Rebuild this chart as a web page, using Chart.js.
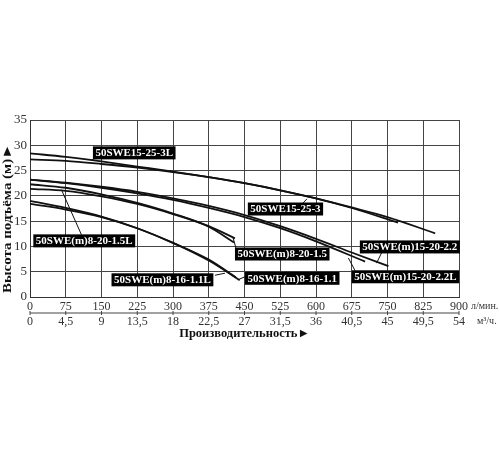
<!DOCTYPE html>
<html lang="ru">
<head>
<meta charset="UTF-8">
<title>Pump curves</title>
<script src="https://cdn.jsdelivr.net/npm/chart.js"></script>
<style>
  body { margin: 0; background: #fff; }
  canvas { display: block; }
</style>
</head>
<body>
<canvas id="pumpChart" width="500" height="450"></canvas>
<script>
// tick labels
const flowLpm = [0, 75, 150, 225, 300, 375, 450, 525, 600, 675, 750, 825, 900];
const flowM3 = ['0', '4,5', '9', '13,5', '18', '22,5', '27', '31,5', '36', '40,5', '45', '49,5', '54'];

// curves: flow (l/min) and head (m)
const q_15_25_3L = [0, 75, 150, 225, 300, 375, 450, 525, 600, 675, 772];
const h_15_25_3L = [28.4, 27.7, 26.8, 25.8, 24.8, 23.7, 22.5, 21.1, 19.5, 17.6, 14.7];
const q_15_25_3 = [0, 75, 150, 225, 300, 375, 450, 525, 600, 675, 750, 850];
const h_15_25_3 = [27.2, 26.9, 26.3, 25.6, 24.7, 23.7, 22.5, 21.1, 19.5, 17.7, 15.8, 12.6];
const q_15_20_22 = [0, 75, 150, 225, 300, 375, 450, 525, 600, 675, 752];
const h_15_20_22 = [23.2, 22.6, 21.8, 20.8, 19.5, 18.0, 16.2, 14.0, 11.5, 8.8, 6.1];
const q_15_20_22L = [0, 75, 150, 225, 300, 375, 450, 525, 600, 703];
const h_15_20_22L = [23.2, 22.5, 21.6, 20.5, 19.2, 17.6, 15.8, 13.6, 11.0, 7.0];
const q_8_20_15 = [0, 75, 150, 225, 300, 375, 428];
const h_8_20_15 = [22.3, 21.6, 20.3, 18.6, 16.5, 13.9, 10.8];
const q_8_20_15L = [0, 75, 150, 225, 300, 375, 430];
const h_8_20_15L = [21.4, 21.0, 19.9, 18.4, 16.4, 14.0, 11.6];
const q_8_16_11 = [0, 75, 150, 225, 300, 375, 440];
const h_8_16_11 = [19.0, 17.6, 15.9, 13.6, 10.7, 7.2, 3.3];
const q_8_16_11L = [0, 75, 150, 225, 300, 375, 432];
const h_8_16_11L = [18.4, 17.3, 15.8, 13.6, 10.7, 7.4, 3.9];

// callout labels: text, box left/centre (data units), leader from -> to
const calloutText = ['50SWE15-25-3L', '50SWE15-25-3', '50SWE(m)8-20-1.5L', '50SWE(m)8-20-1.5',
  '50SWE(m)8-16-1.1L', '50SWE(m)8-16-1.1', '50SWE(m)15-20-2.2', '50SWE(m)15-20-2.2L'];
const calloutAt = [[132, 28.5], [457, 17.4], [7, 11.1], [430, 8.5], [171, 3.4], [451, 3.7], [692, 9.9], [675, 4.0]];
const leaderFrom = [[136, 27.5], [573, 18.6], [108, 12.3], [432, 9.7], [388, 4.3], [451, 4.0], [738, 8.8], [682, 5.2]];
const leaderTo = [[129, 27.0], [581, 19.4], [66, 21.2], [426, 11.7], [409, 4.7], [436, 3.4], [727, 6.7], [668, 7.7]];

const toPts = (q, h) => q.map((v, i) => ({ x: v, y: h[i] }));
const curve = (label, q, h) => ({
  label: label,
  data: toPts(q, h),
  borderColor: '#111',
  borderWidth: 1.8,
  pointRadius: 0,
  fill: false,
  cubicInterpolationMode: 'monotone'
});

const SERIF = '"Liberation Serif", "DejaVu Serif", serif';

const extras = {
  id: 'extras',
  afterDraw(chart) {
    const ctx = chart.ctx;
    const xs = chart.scales.x, ys = chart.scales.y;
    const area = chart.chartArea;
    ctx.save();
    // leaders
    ctx.strokeStyle = '#111';
    ctx.lineWidth = 1;
    leaderFrom.forEach((f, i) => {
      const t = leaderTo[i];
      ctx.beginPath();
      ctx.moveTo(xs.getPixelForValue(f[0]), ys.getPixelForValue(f[1]));
      ctx.lineTo(xs.getPixelForValue(t[0]), ys.getPixelForValue(t[1]));
      ctx.stroke();
    });
    // boxes
    ctx.font = 'bold 11px ' + SERIF;
    ctx.textBaseline = 'middle';
    calloutText.forEach((txt, i) => {
      const px = xs.getPixelForValue(calloutAt[i][0]);
      const py = ys.getPixelForValue(calloutAt[i][1]);
      const w = ctx.measureText(txt).width + 5;
      ctx.fillStyle = '#000';
      ctx.fillRect(px, py - 6.5, w, 13);
      ctx.fillStyle = '#fff';
      ctx.fillText(txt, px + 2.5, py + 0.5);
    });
    // separator between the two flow rows
    const sepY = area.bottom + 16;
    ctx.strokeStyle = '#444';
    ctx.beginPath();
    ctx.moveTo(xs.getPixelForValue(0), sepY);
    ctx.lineTo(xs.getPixelForValue(900), sepY);
    ctx.stroke();
    flowLpm.forEach(v => {
      const p = xs.getPixelForValue(v);
      ctx.beginPath();
      ctx.moveTo(p, sepY - 2);
      ctx.lineTo(p, sepY + 2);
      ctx.stroke();
    });
    // units
    ctx.fillStyle = '#333';
    ctx.font = '10px ' + SERIF;
    ctx.textAlign = 'left';
    ctx.fillText('л/мин.', area.right + 12, area.bottom + 9);
    ctx.fillText('м³/ч.', area.right + 18, area.bottom + 24);
    // axis titles
    ctx.fillStyle = '#111';
    ctx.font = 'bold 12.5px ' + SERIF;
    ctx.textAlign = 'center';
    ctx.fillText('Производительность►', (area.left + area.right) / 2, area.bottom + 37);
    ctx.translate(8, (area.top + area.bottom) / 2 + 10);
    ctx.rotate(-Math.PI / 2);
    ctx.scale(1.15, 1);
    ctx.font = 'bold 13px ' + SERIF;
    ctx.fillText('Высота подъёма (м)►', 0, 0);
    ctx.restore();
  }
};

new Chart(document.getElementById('pumpChart'), {
  type: 'line',
  data: {
    datasets: [
      curve('50SWE15-25-3L', q_15_25_3L, h_15_25_3L),
      curve('50SWE15-25-3', q_15_25_3, h_15_25_3),
      curve('50SWE(m)15-20-2.2', q_15_20_22, h_15_20_22),
      curve('50SWE(m)15-20-2.2L', q_15_20_22L, h_15_20_22L),
      curve('50SWE(m)8-20-1.5', q_8_20_15, h_8_20_15),
      curve('50SWE(m)8-20-1.5L', q_8_20_15L, h_8_20_15L),
      curve('50SWE(m)8-16-1.1', q_8_16_11, h_8_16_11),
      curve('50SWE(m)8-16-1.1L', q_8_16_11L, h_8_16_11L)
    ]
  },
  options: {
    responsive: false,
    animation: false,
    layout: { padding: { top: 120, right: 41, left: 0, bottom: 0 } },
    plugins: { legend: { display: false }, tooltip: { enabled: false } },
    scales: {
      x: {
        type: 'linear',
        min: 0,
        max: 900,
        afterFit: s => { s.height = 153; },
        afterBuildTicks: s => { s.ticks = flowLpm.map(v => ({ value: v })); },
        ticks: {
          color: '#333',
          font: { family: SERIF, size: 12, lineHeight: 1.25 },
          padding: 2,
          maxRotation: 0,
          autoSkip: false,
          callback: (v, i) => [String(flowLpm[i]), flowM3[i]]
        },
        grid: { color: '#444', lineWidth: 1, drawTicks: false },
        border: { color: '#333', width: 1 }
      },
      y: {
        min: 0,
        max: 35,
        afterFit: s => { s.width = 30; },
        ticks: {
          stepSize: 5,
          color: '#333',
          font: { family: SERIF, size: 13 },
          padding: 3
        },
        grid: { color: '#444', lineWidth: 1, drawTicks: false },
        border: { color: '#333', width: 1 }
      }
    }
  },
  plugins: [extras]
});
</script>
</body>
</html>
